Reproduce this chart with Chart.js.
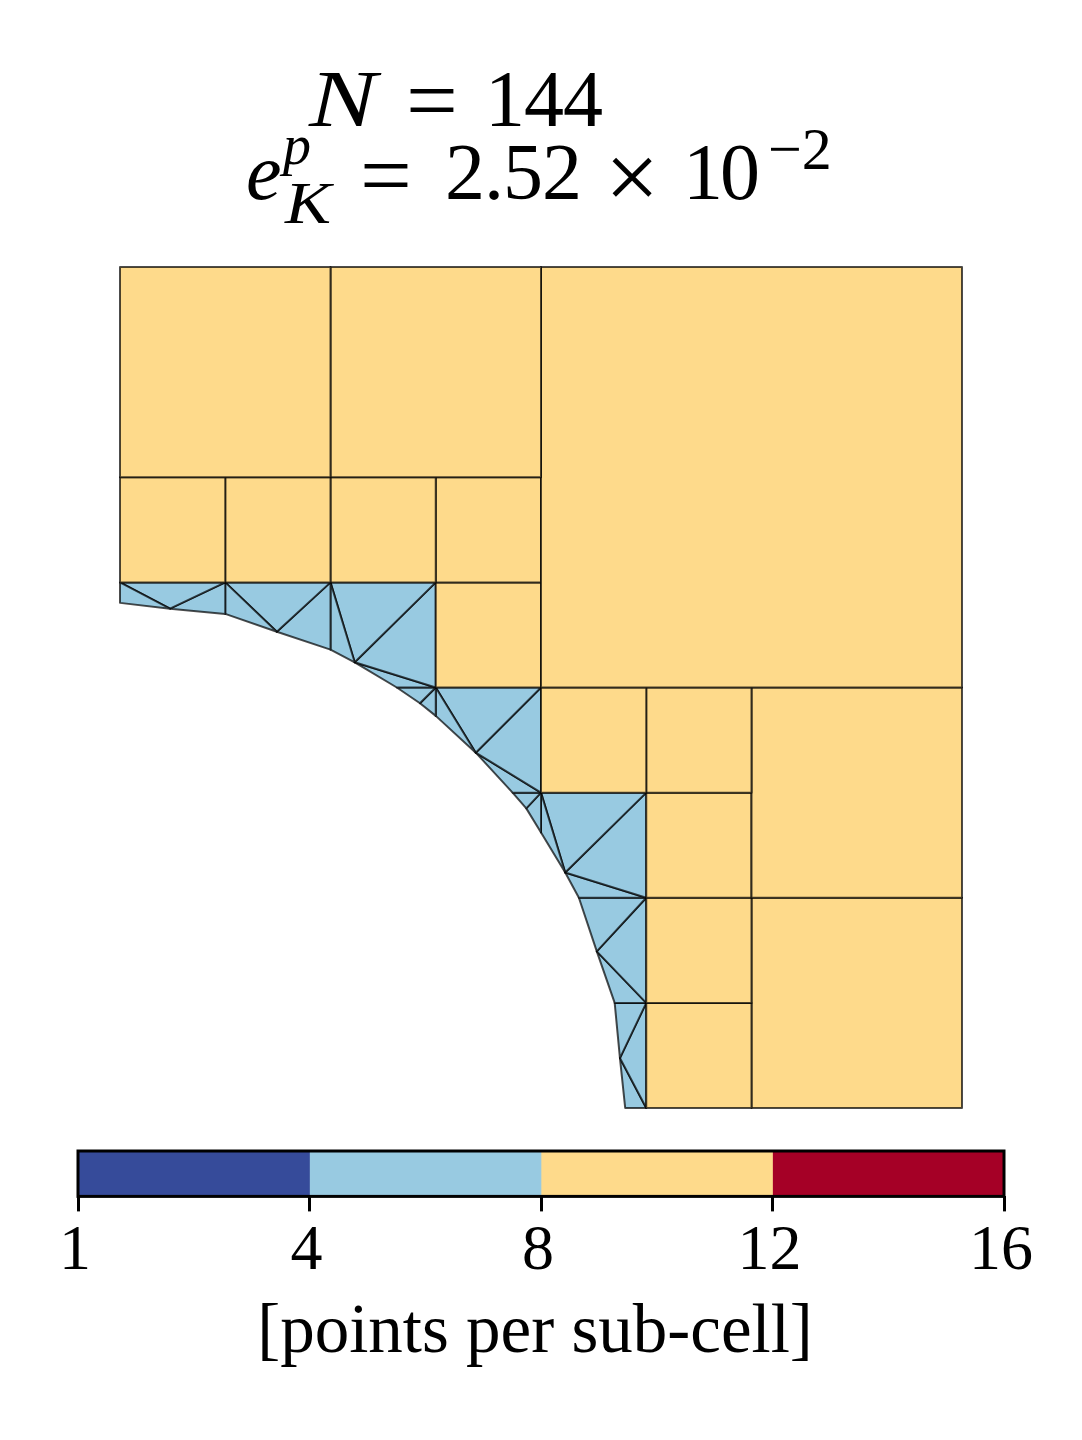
<!DOCTYPE html>
<html>
<head>
<meta charset="utf-8">
<script src="https://cdn.jsdelivr.net/npm/chart.js@4"></script>
<style>
    body { margin: 0; background: #fff; width: 1082px; height: 1440px; position: relative; overflow: hidden; }
    canvas { position: absolute; left: 0; }
    #malla { top: 0; }
    #barra { top: 1130px; }
    .t { position: absolute; font-family: "Liberation Serif", serif; line-height: 1; color: #000; white-space: pre; transform-origin: left center; }
    .i { font-style: italic; }
</style>
</head>
<body>

<canvas id="malla" width="1082" height="1130"></canvas>
<canvas id="barra" width="1082" height="310"></canvas>

<span class="t i" style="left:309px; top:59px; font-size:80px; transform:scaleX(1.27);">N</span>
<span class="t" style="left:406px; top:54px; font-size:92px;">=</span>
<span class="t" style="left:485px; top:59px; font-size:80px; letter-spacing:-1px;">144</span>

<span class="t i" style="left:246px; top:132px; font-size:80px;">e</span>
<span class="t i" style="left:283px; top:117px; font-size:56px;">p</span>
<span class="t i" style="left:285px; top:173px; font-size:60px; transform:scaleX(1.15);">K</span>
<span class="t" style="left:360px; top:129px; font-size:92px;">=</span>
<span class="t" style="left:445px; top:132px; font-size:80px; letter-spacing:-1px;">2.52</span>
<span class="t" style="left:605px; top:129px; font-size:96px;">×</span>
<span class="t" style="left:683px; top:132px; font-size:80px; letter-spacing:-3px;">10</span>
<span class="t" style="left:768px; top:119px; font-size:60px;">−2</span>

<script>
// ==============================
// DATOS
// ==============================

// sub-celdas cuadradas: [x0, y0, x1, y1]
const celdasCuadradas = [
    [0, 6, 2, 8], [2, 6, 4, 8], [4, 4, 8, 8],
    [0, 5, 1, 6], [1, 5, 2, 6], [2, 5, 3, 6], [3, 5, 4, 6],
    [3, 4, 4, 5],
    [4, 3, 5, 4], [5, 3, 6, 4], [6, 2, 8, 4],
    [5, 2, 6, 3], [5, 1, 6, 2], [5, 0, 6, 1], [6, 0, 8, 2]
];

// puntos sobre el arco
const arcoX = [0, 0.475, 1, 1.49, 2, 2.23, 2.63, 2.85, 3, 3.38, 3.73, 3.86, 4, 4.23, 4.36, 4.53, 4.70, 4.75, 4.80];
const arcoY = [4.805, 4.75, 4.70, 4.53, 4.36, 4.24, 4, 3.85, 3.73, 3.38, 3, 2.85, 2.62, 2.24, 2, 1.49, 1, 0.475, 0];

// triángulos: un número es un índice del arco, un par es un nodo de la malla
const celdasTriangulares = [
    [[0, 5], 0, 1], [[0, 5], 1, [1, 5]], [1, 2, [1, 5]],
    [[1, 5], 2, 3], [[1, 5], 3, [2, 5]], [[2, 5], 3, 4],
    [[2, 5], 4, 5], [[2, 5], 5, [3, 5]], [[3, 5], 5, [3, 4]],
    [[3, 4], 5, 6], [[3, 4], 6, 7], [[3, 4], 7, 8],
    [[3, 4], 8, 9], [[3, 4], 9, [4, 4]], [[4, 4], 9, [4, 3]],
    [[4, 3], 9, 10], [[4, 3], 10, 11], [[4, 3], 11, 12],
    [[4, 3], 12, 13], [[4, 3], 13, [5, 3]], [[5, 3], 13, [5, 2]],
    [[5, 2], 13, 14], [[5, 2], 14, 15], [[5, 2], 15, [5, 1]],
    [[5, 1], 15, 16], [[5, 1], 16, 17], [[5, 1], 17, [5, 0]],
    [[5, 0], 17, 18]
];

// barra de color
const etiquetasBarra = ["1", "4", "8", "12", "16"];
const tramosBarra = [1, 1, 1, 1];
const coloresBarra = ["#364B9A", "#98CAE1", "#FEDA8B", "#A50026"];
const tituloBarra = "[points per sub-cell]";

const FUENTE = '"Liberation Serif", serif';

// ==============================
// MALLA
// ==============================
function aDataset(puntos, color) {
    return {
        data: puntos.concat([puntos[0]]),
        showLine: true,
        fill: 'shape',
        backgroundColor: color,
        borderColor: 'rgba(0, 0, 0, 0.7)',
        borderWidth: 2,
        borderJoinStyle: 'round',
        pointRadius: 0,
        tension: 0,
        clip: false
    };
}

const cuadrados = celdasCuadradas.map(c => aDataset([
    { x: c[0], y: c[1] },
    { x: c[2], y: c[1] },
    { x: c[2], y: c[3] },
    { x: c[0], y: c[3] }
], coloresBarra[2]));

const triangulos = celdasTriangulares.map(t => aDataset(t.map(v => {
    if (typeof v === 'number') return { x: arcoX[v], y: arcoY[v] };
    return { x: v[0], y: v[1] };
}), coloresBarra[1]));

new Chart(document.getElementById('malla'), {
    type: 'scatter',
    data: { datasets: cuadrados.concat(triangulos) },
    options: {
        responsive: false,
        animation: false,
        layout: { padding: { left: 120, right: 120, top: 267, bottom: 22 } },
        plugins: { legend: { display: false }, tooltip: { enabled: false } },
        scales: {
            x: { type: 'linear', min: 0, max: 8, display: false },
            y: { type: 'linear', min: 0, max: 8, display: false }
        }
    }
});

// ==============================
// BARRA DE COLOR
// ==============================
const marcoBarra = {
    id: 'marcoBarra',
    afterLayout(chart) {
        // el título va un poco a la izquierda del centro
        chart.titleBlock.left -= 6;
        chart.titleBlock.right -= 6;
    },
    afterDraw(chart) {
        const a = chart.chartArea;
        const ctx = chart.ctx;
        ctx.save();
        ctx.strokeStyle = '#000';
        ctx.lineWidth = 3;
        ctx.strokeRect(a.left, a.top, a.width, a.height);
        ctx.restore();
    }
};

new Chart(document.getElementById('barra'), {
    type: 'bar',
    data: {
        labels: [''],
        datasets: tramosBarra.map((v, i) => ({
            data: [v],
            backgroundColor: coloresBarra[i],
            borderWidth: 0,
            categoryPercentage: 1,
            barPercentage: 1
        }))
    },
    options: {
        indexAxis: 'y',
        responsive: false,
        animation: false,
        layout: { padding: { left: 78, right: 78, top: 21, bottom: 65 } },
        plugins: {
            legend: { display: false },
            tooltip: { enabled: false },
            title: {
                display: true,
                position: 'bottom',
                text: tituloBarra,
                color: '#000',
                font: { family: FUENTE, size: 69, weight: 'normal' },
                padding: 0
            }
        },
        scales: {
            x: {
                type: 'linear',
                stacked: true,
                min: 0,
                max: 4,
                border: { display: false },
                grid: { drawOnChartArea: false, drawTicks: true, tickLength: 15, tickWidth: 3, tickColor: '#000' },
                ticks: {
                    stepSize: 1,
                    maxRotation: 0,
                    padding: 2,
                    labelOffset: -3,
                    color: '#000',
                    font: { family: FUENTE, size: 64 },
                    callback: v => etiquetasBarra[v]
                }
            },
            y: { stacked: true, display: false }
        }
    },
    plugins: [marcoBarra]
});
</script>
</body>
</html>
